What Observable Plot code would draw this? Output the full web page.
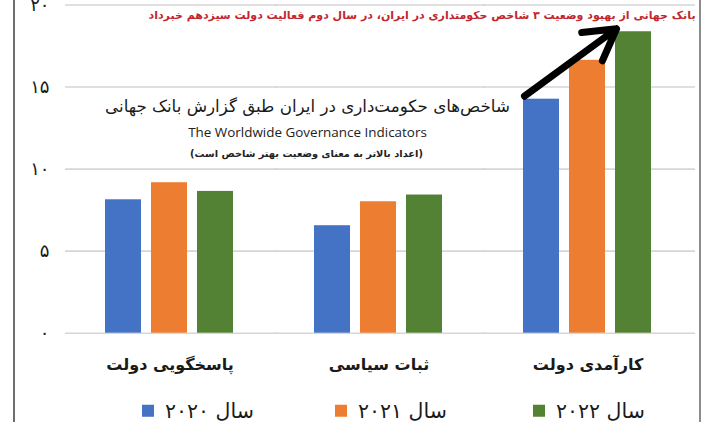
<!DOCTYPE html>
<html>
<head>
<meta charset="utf-8">
<script src="https://cdn.jsdelivr.net/npm/d3@7"></script>
<script src="https://cdn.jsdelivr.net/npm/@observablehq/plot@0.6"></script>
<style>
  body { margin: 0; background: #fff; }
  #wrap { position: relative; width: 702px; height: 422px; overflow: hidden; background: #fff; font-family: "DejaVu Sans", "Noto Sans", sans-serif; }
  #chart { position: absolute; left: 0; top: 0; }
  #frame { position: absolute; left: 13px; top: 0; width: 684px; height: 422px; border-left: 2px solid #6e6e6e; border-right: 2px solid #8c8c8c; pointer-events: none; box-sizing: content-box; }
  .ov { position: absolute; white-space: nowrap; transform: translate(-50%, -50%); line-height: 1; }
  .rtl { direction: rtl; unicode-bidi: isolate; }
  #headline { color: #c1272d; font-weight: bold; font-size: 13px; }
  #t1 { color: #1a1a1a; font-size: 19px; }
  #t2 { color: #222; font-size: 13px; font-family: "Open Sans", "DejaVu Sans", sans-serif; }
  #t3 { color: #222; font-size: 11px; font-weight: bold; }
  .leg { position: absolute; top: 411px; display: flex; align-items: center; transform: translateY(-50%); }
  .leg .sw { width: 12px; height: 12px; margin-right: 11px; }
  .leg .lt { font-size: 20.5px; color: #1a1a1a; direction: rtl; unicode-bidi: isolate; line-height: 1; }
</style>
</head>
<body>
<div id="wrap">
  <div id="chart"></div>
  <div id="frame"></div>
</div>
<script>
// ---- data ----
const categories = ["پاسخگویی دولت", "ثبات سیاسی", "کارآمدی دولت"];
const years = ["2020", "2021", "2022"];
const yearLabels = ["سال ۲۰۲۰", "سال ۲۰۲۱", "سال ۲۰۲۲"];
const values2020 = [8.13, 6.55, 14.26];
const values2021 = [9.17, 8.01, 16.63];
const values2022 = [8.64, 8.42, 18.37];
const colors = ["#4472c4", "#ed7d31", "#548235"];
const yTicks = [0, 5, 10, 15, 20];
const yTickLabels = ["۰", "۵", "۱۰", "۱۵", "۲۰"];
const headline = "بانک جهانی از بهبود وضعیت ۳ شاخص حکومتداری در ایران، در سال دوم فعالیت دولت سیزدهم خبرداد";
const title = "شاخص‌های حکومت‌داری در ایران طبق گزارش بانک جهانی";
const subtitle = "The Worldwide Governance Indicators";
const note = "(اعداد بالاتر به معنای وضعیت بهتر شاخص است)";

const seriesValues = [values2020, values2021, values2022];
const rows = categories.flatMap((c, i) => years.map((y, j) => ({cat: c, year: y, value: seriesValues[j][i]})));

const H = 390;
const plot = Plot.plot({
  width: 702,
  height: H,
  marginLeft: 64,
  marginRight: 10,
  marginTop: 4.5,
  marginBottom: H - 332.7,
  style: {fontFamily: "DejaVu Sans, sans-serif", fontSize: "17px", color: "#1a1a1a", background: "transparent"},
  facet: {data: rows, x: "cat"},
  fx: {domain: categories, padding: 0, label: null, tickSize: 0, tickPadding: 25},
  x: {domain: years, paddingInner: 0.216, paddingOuter: 0.869, axis: null},
  y: {domain: [0, 20], ticks: yTicks, tickFormat: d => yTickLabels[yTicks.indexOf(d)], tickSize: 0, tickPadding: 16, label: null},
  color: {domain: years, range: colors},
  marks: [
    Plot.ruleY(yTicks, {stroke: "#d6d6d6", strokeWidth: 1.6, insetRight: -3}),
    Plot.barY(rows, {x: "year", y: "value", fill: "year"}),
    Plot.arrow(rows, {
      filter: d => d.cat === categories[2] && d.year === years[2],
      x1: () => years[0],
      y1: d => values2020[categories.indexOf(d.cat)],
      x2: "year",
      y2: "value",
      dx: -17, dy: -3,
      stroke: "#000", strokeWidth: 7, headLength: 7.5
    })
  ]
});
document.getElementById("chart").appendChild(plot);

const svg = d3.select(plot);
svg.selectAll('[aria-label^="fx-axis"] text').attr("font-weight", "bold").attr("font-size", "16px").attr("fill", "#1a1a1a");
svg.selectAll('[aria-label^="y-axis"] text').attr("font-size", "18px").attr("fill", "#1a1a1a");

// ---- overlay texts ----
const wrap = document.getElementById("wrap");
function addText(id, text, cx, cy, w, cls) {
  const el = document.createElement("div");
  el.id = id;
  el.className = "ov " + (cls || "");
  el.textContent = text;
  el.style.left = cx + "px";
  el.style.top = cy + "px";
  wrap.appendChild(el);
  const r = el.getBoundingClientRect().width;
  const fs = parseFloat(getComputedStyle(el).fontSize);
  if (w && r > 0) el.style.fontSize = (fs * w / r) + "px";
  return el;
}
addText("headline", headline, 422, 16, 548, "rtl");
addText("t1", title, 307.5, 107, 405, "rtl");
addText("t2", subtitle, 307.5, 133, 239, "");
addText("t3", note, 306.5, 153.5, 233, "rtl");

// ---- legend ----
const legLefts = [142, 335, 533];
years.forEach((y, i) => {
  const item = document.createElement("div");
  item.className = "leg";
  item.style.left = legLefts[i] + "px";
  const sw = document.createElement("div");
  sw.className = "sw";
  sw.style.background = colors[i];
  const lt = document.createElement("div");
  lt.className = "lt";
  lt.textContent = yearLabels[i];
  item.appendChild(sw);
  item.appendChild(lt);
  wrap.appendChild(item);
});
</script>
</body>
</html>
